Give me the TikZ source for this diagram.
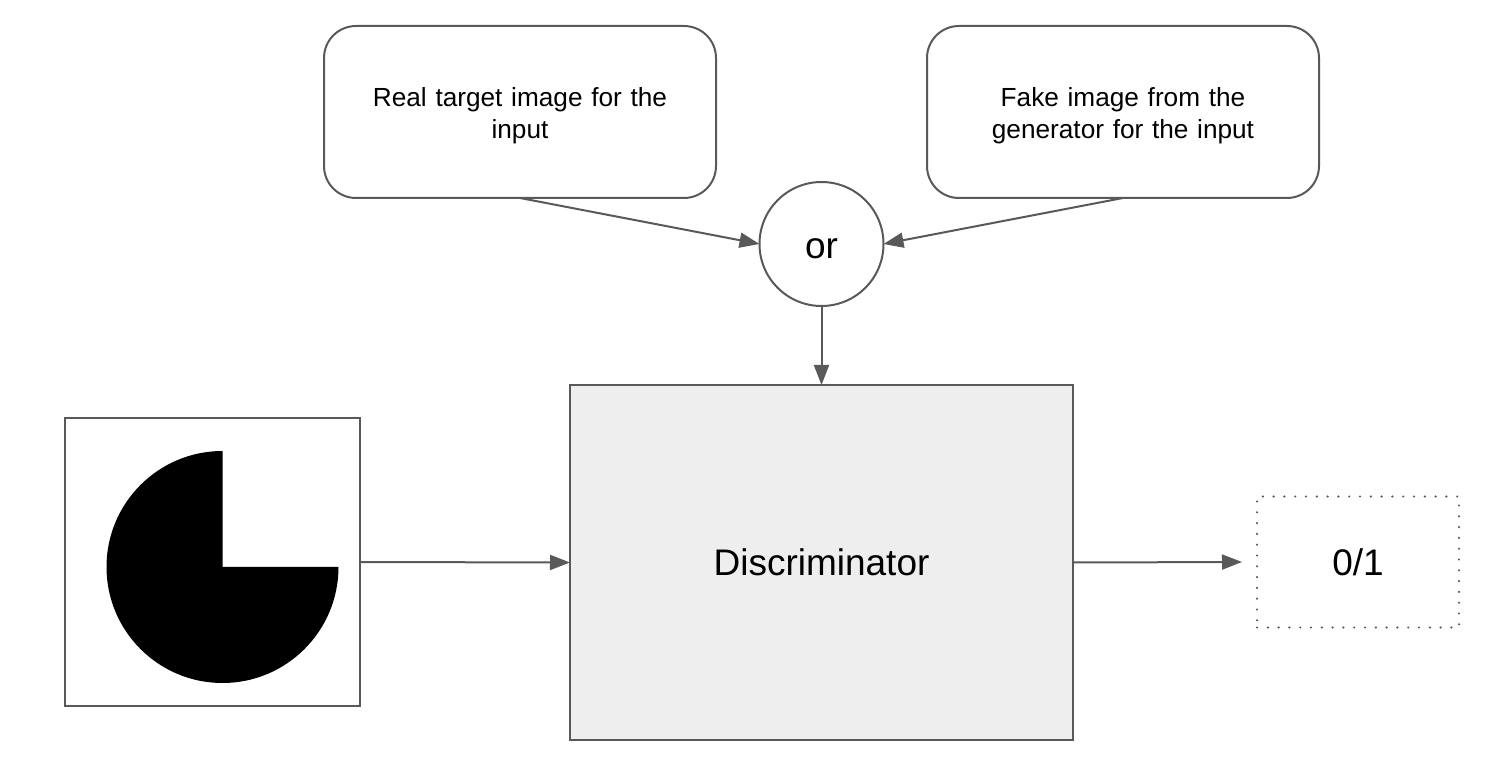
\documentclass[tikz,border=0pt]{standalone}
\usepackage{fontspec}
\setmainfont{Liberation Sans}
\usetikzlibrary{arrows.meta}
\definecolor{linegray}{HTML}{595959}
\definecolor{discfill}{HTML}{EEEEEE}
\begin{document}
\begin{tikzpicture}[x=0.5pt,y=-0.5pt,
  every node/.style={inner sep=0pt, outer sep=0pt},
  line/.style={draw=linegray, line width=1pt},
  conn/.style={line, -{Triangle[length=10pt,width=7.5pt]}},
  textbox/.style={line, rounded corners=16pt, minimum width=196pt, minimum height=86pt},
  boxtext/.style={align=center, text width=170pt, font=\fontsize{13.1}{15.8}\selectfont, yshift=-2pt},
  bigtext/.style={font=\fontsize{18.5}{22}\selectfont}
]
\useasboundingbox (0,0) rectangle (1512,775);
\node[textbox, label={[name=realtxt, boxtext]center:{Real target image for the\\input}}] (real) at (520,112) {};
\node[textbox, label={[name=faketxt, boxtext]center:{Fake image from the\\generator for the input}}] (fake) at (1123,112) {};
\node[line, circle, minimum size=62pt, label={[name=ortxt, bigtext, yshift=-2.5pt]center:or}] (or) at (821.5,244) {};
\node[line, fill=discfill, minimum width=251.5pt, minimum height=177.5pt, bigtext] (disc) at (821.5,562.5) {Discriminator};
\node[line, minimum width=147.5pt, minimum height=144pt] (img) at (212.5,562) {};
\node[draw=linegray, line width=1.2pt, line cap=round, dash pattern=on 0pt off 5.4pt, minimum width=101pt, minimum height=65.5pt, bigtext] (out) at (1358,562) {0/1};
\coordinate (pc) at (222.5,567);
\fill[black] (pc) -- ([yshift=58pt]pc) arc[start angle=90, end angle=360, radius=58pt] -- cycle;
\coordinate (outin) at ([xshift=-7.5pt]out.west);
\draw[conn] (real.south) -- (or.west);
\draw[conn] (fake.south) -- (or.east);
\draw[conn] (or.south) -- (disc.north);
\draw[conn] (img.east) -- (disc.west);
\draw[conn] (disc.east) -- (outin);
\end{tikzpicture}
\end{document}
